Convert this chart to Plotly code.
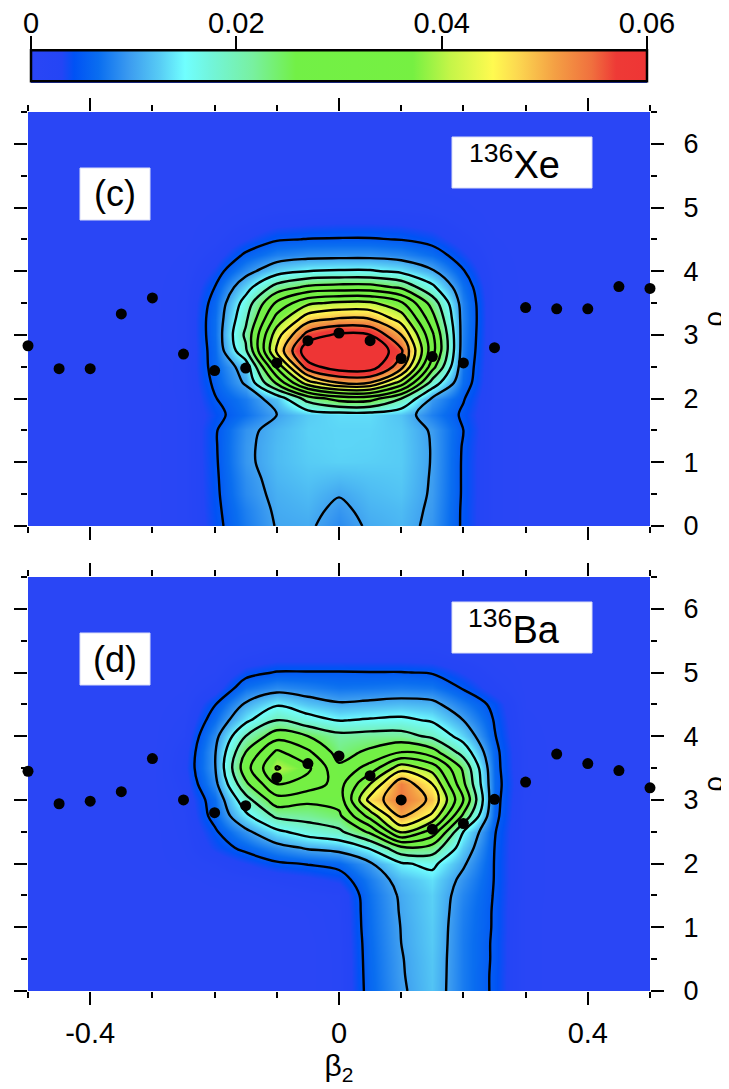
import numpy as np
import plotly.graph_objects as go

# ---------------- data ----------------
beta_nodes = [-0.5, -0.45, -0.4, -0.35, -0.3, -0.25, -0.2, -0.15, -0.1, -0.05, 0.0,
              0.05, 0.1, 0.15, 0.2, 0.25, 0.3, 0.35, 0.4, 0.45, 0.5]
rho_nodes = [0.0, 0.25, 0.5, 0.75, 1.0, 1.25, 1.5, 1.75, 2.0, 2.25, 2.5, 2.75, 3.0,
             3.25, 3.5, 3.75, 4.0, 4.25, 4.5, 4.75, 5.0, 5.25, 5.5, 5.75, 6.0, 6.25, 6.5]

# non-zero block: columns beta = -0.3 ... 0.3, rows rho = 0, 0.25, ...
block_beta = [-0.3, -0.25, -0.2, -0.15, -0.1, -0.05, 0.0, 0.05, 0.1, 0.15, 0.2, 0.25, 0.3]

density_xe = [
    [0, 0.001, 0.004, 0.0075, 0.0102, 0.0105, 0.0085, 0.0105, 0.0112, 0.0092, 0.0045, 0.001, 0],
    [0, 0.001, 0.0042, 0.0078, 0.0105, 0.011, 0.0092, 0.011, 0.0115, 0.0094, 0.0045, 0.001, 0],
    [0, 0.001, 0.0043, 0.0085, 0.0108, 0.0115, 0.0102, 0.0115, 0.012, 0.0096, 0.0046, 0.001, 0],
    [0, 0.001, 0.0044, 0.0088, 0.0112, 0.012, 0.0115, 0.012, 0.0123, 0.0097, 0.0046, 0.001, 0],
    [0, 0.001, 0.0045, 0.0093, 0.0115, 0.0125, 0.0128, 0.0127, 0.0125, 0.0098, 0.0046, 0.001, 0],
    [0, 0.001, 0.0046, 0.0093, 0.0115, 0.0127, 0.013, 0.0129, 0.0125, 0.0098, 0.0047, 0.001, 0],
    [0, 0.001, 0.0046, 0.009, 0.0113, 0.0128, 0.013, 0.013, 0.0124, 0.0096, 0.005, 0.001, 0],
    [0, 0.001, 0.004, 0.0068, 0.0100, 0.0125, 0.0133, 0.0133, 0.012, 0.0078, 0.0045, 0.001, 0],
    [0, 0.001, 0.0048, 0.0075, 0.012, 0.022, 0.027, 0.027, 0.02, 0.0095, 0.0052, 0.001, 0],
    [0, 0.0012, 0.0055, 0.0105, 0.026, 0.043, 0.05, 0.05, 0.038, 0.018, 0.0065, 0.001, 0],
    [0, 0.0012, 0.006, 0.012, 0.036, 0.058, 0.063, 0.063, 0.052, 0.027, 0.007, 0.001, 0],
    [0, 0.001, 0.0062, 0.019, 0.046, 0.064, 0.067, 0.066, 0.056, 0.032, 0.0075, 0.001, 0],
    [0, 0.001, 0.0065, 0.021, 0.043, 0.057, 0.061, 0.06, 0.05, 0.031, 0.0078, 0.001, 0],
    [0, 0.001, 0.0065, 0.019, 0.037, 0.048, 0.0505, 0.05, 0.043, 0.027, 0.008, 0.001, 0],
    [0, 0.001, 0.006, 0.017, 0.031, 0.039, 0.041, 0.041, 0.036, 0.023, 0.0078, 0.001, 0],
    [0, 0.0008, 0.005, 0.013, 0.022, 0.026, 0.027, 0.027, 0.024, 0.016, 0.0068, 0.001, 0],
    [0, 0.0005, 0.0035, 0.0085, 0.013, 0.015, 0.0155, 0.0155, 0.014, 0.0105, 0.0052, 0.0008, 0],
    [0, 0.0003, 0.002, 0.0055, 0.0078, 0.0086, 0.0088, 0.0088, 0.0082, 0.0065, 0.0035, 0.0005, 0],
    [0, 0, 0.001, 0.003, 0.0047, 0.0051, 0.0052, 0.0052, 0.0049, 0.004, 0.002, 0.0003, 0],
    [0, 0, 0.0005, 0.0015, 0.0025, 0.0028, 0.003, 0.003, 0.0028, 0.0022, 0.001, 0, 0],
    [0, 0, 0.0002, 0.0006, 0.001, 0.0012, 0.0013, 0.0013, 0.0012, 0.0009, 0.0004, 0, 0],
    [0, 0, 0, 0.0002, 0.0004, 0.0005, 0.0005, 0.0005, 0.0005, 0.0003, 0.0001, 0, 0],
]

density_ba = [
    [0, 0, 0, 0, 0, 0, 0.001, 0.006, 0.0095, 0.012, 0.0075, 0.0045, 0.0005],
    [0, 0, 0, 0, 0, 0, 0.001, 0.0061, 0.0097, 0.0121, 0.0075, 0.0045, 0.0005],
    [0, 0, 0, 0, 0, 0, 0.001, 0.0062, 0.0098, 0.0122, 0.0075, 0.0046, 0.0005],
    [0, 0, 0, 0, 0, 0, 0.0011, 0.0063, 0.01, 0.0124, 0.0075, 0.0046, 0.0005],
    [0, 0, 0, 0, 0, 0.0002, 0.0012, 0.0065, 0.0101, 0.0125, 0.0076, 0.0047, 0.0005],
    [0, 0, 0, 0, 0, 0.0003, 0.0013, 0.0066, 0.0103, 0.0127, 0.0078, 0.0047, 0.0005],
    [0, 0, 0, 0, 0.0005, 0.001, 0.0015, 0.0068, 0.0105, 0.0128, 0.0082, 0.0048, 0.0006],
    [0, 0, 0.0005, 0.001, 0.0018, 0.0025, 0.0035, 0.0075, 0.0115, 0.0135, 0.009, 0.0049, 0.0006],
    [0, 0.0005, 0.0015, 0.003, 0.0045, 0.0052, 0.006, 0.0095, 0.0145, 0.016, 0.0105, 0.0049, 0.0006],
    [0, 0.0008, 0.0035, 0.0058, 0.0085, 0.0105, 0.0115, 0.0155, 0.024, 0.023, 0.0125, 0.005, 0.0006],
    [0, 0.001, 0.0045, 0.009, 0.014, 0.017, 0.019, 0.026, 0.041, 0.033, 0.015, 0.0052, 0.0006],
    [0, 0.0012, 0.006, 0.014, 0.021, 0.022, 0.024, 0.037, 0.051, 0.044, 0.024, 0.0058, 0.0006],
    [0, 0.0015, 0.0065, 0.018, 0.028, 0.026, 0.027, 0.047, 0.054, 0.049, 0.03, 0.006, 0.0008],
    [0, 0.002, 0.0085, 0.024, 0.035, 0.033, 0.028, 0.04, 0.0535, 0.045, 0.026, 0.0062, 0.001],
    [0, 0.0025, 0.0095, 0.028, 0.0405, 0.036, 0.026, 0.032, 0.043, 0.038, 0.024, 0.006, 0.0008],
    [0, 0.0022, 0.0095, 0.025, 0.036, 0.031, 0.023, 0.026, 0.03, 0.027, 0.018, 0.0058, 0.0008],
    [0, 0.0015, 0.0085, 0.02, 0.028, 0.025, 0.0215, 0.022, 0.022, 0.019, 0.013, 0.0052, 0.0006],
    [0, 0.001, 0.0065, 0.014, 0.02, 0.017, 0.0148, 0.0155, 0.016, 0.0145, 0.01, 0.0048, 0.0004],
    [0, 0.0005, 0.0048, 0.0105, 0.0145, 0.012, 0.0105, 0.011, 0.0115, 0.011, 0.0075, 0.0042, 0.0002],
    [0, 0.0002, 0.002, 0.0068, 0.0085, 0.0078, 0.007, 0.0072, 0.0075, 0.0072, 0.0048, 0.002, 0],
    [0, 0, 0.0008, 0.004, 0.0052, 0.0052, 0.0052, 0.0051, 0.0051, 0.0048, 0.003, 0.001, 0],
    [0, 0, 0.0003, 0.0015, 0.0022, 0.0022, 0.0022, 0.0022, 0.0022, 0.002, 0.0012, 0.0004, 0],
    [0, 0, 0, 0.0005, 0.0008, 0.0008, 0.0008, 0.0008, 0.0008, 0.0008, 0.0004, 0, 0],
]

# points (beta, rho)
beta_points = [-0.5, -0.45, -0.4, -0.35, -0.3, -0.25, -0.2, -0.15, -0.1, -0.05, 0.0,
               0.05, 0.1, 0.15, 0.2, 0.25, 0.3, 0.35, 0.4, 0.45, 0.5]
rho_points_xe = [2.83, 2.47, 2.47, 3.33, 3.58, 2.70, 2.44, 2.48, 2.56, 2.91, 3.03,
                 2.91, 2.63, 2.66, 2.56, 2.80, 3.43, 3.41, 3.41, 3.76, 3.73]
rho_points_ba = [3.45, 2.94, 2.98, 3.13, 3.65, 3.00, 2.80, 2.91, 3.35, 3.57, 3.69,
                 3.38, 3.00, 2.54, 2.63, 3.01, 3.28, 3.72, 3.57, 3.46, 3.19]

cbar_ticks = [0, 0.02, 0.04, 0.06]
cbar_ticktext = ["0", "0.02", "0.04", "0.06"]
beta_ticks = [-0.4, 0, 0.4]
beta_ticktext = ["-0.4", "0", "0.4"]
beta_minor = [-0.5, -0.3, -0.2, -0.1, 0.1, 0.2, 0.3, 0.5]
rho_ticks = [0, 1, 2, 3, 4, 5, 6]
rho_ticktext = ["0", "1", "2", "3", "4", "5", "6"]
rho_minor = [0.5, 1.5, 2.5, 3.5, 4.5, 5.5, 6.5]


def full_grid(block):
    z = np.zeros((len(rho_nodes), len(beta_nodes)))
    c0 = beta_nodes.index(block_beta[0])
    arr = np.array(block)
    z[:arr.shape[0], c0:c0 + arr.shape[1]] = arr
    return z


z_xe = full_grid(density_xe)
z_ba = full_grid(density_ba)

colorscale = [
    [0.0, "#2a46f5"], [0.05, "#2445f5"], [0.07, "#0052f5"], [0.11, "#0a6ef0"],
    [0.16, "#3c9cf0"], [0.21, "#58cdf5"], [0.25, "#70ffff"], [0.29, "#72f5dc"],
    [0.36, "#78f0a0"], [0.43, "#72f046"], [0.62, "#76f042"], [0.68, "#c4f548"],
    [0.75, "#fffa50"], [0.79, "#fcd850"], [0.85, "#f4a044"], [0.91, "#f0703e"],
    [0.95, "#ee3a36"], [1.0, "#ee3535"],
]

FONT = "Liberation Sans, Arial, Helvetica, sans-serif"

# pixel geometry (page body adds an 8 px offset)
OFF = 8
W, H = 729 - OFF, 1089 - OFF
ML, MR, MT, MB = 28 - OFF, 79, 0, 98
PW = W - ML - MR
PH = H - MT - MB


def ypaper(py):
    # py: reference page pixel (from top)
    return (H - MB - (py - OFF)) / PH


fig = go.Figure()

for i, (z, pts, xa, ya) in enumerate([(z_xe, rho_points_xe, "x", "y"),
                                       (z_ba, rho_points_ba, "x2", "y2")]):
    hm = dict(
        x=beta_nodes, y=rho_nodes, z=z, colorscale=colorscale, zmin=0, zmax=0.06,
        zsmooth="best", xaxis=xa, yaxis=ya, hoverinfo="skip", showscale=(i == 0),
    )
    if i == 0:
        hm["colorbar"] = dict(
            orientation="h", x=0.5, xanchor="center", y=ypaper(67), yanchor="middle",
            yref="paper", lenmode="pixels", len=616, thicknessmode="pixels", thickness=31,
            outlinewidth=2.5, outlinecolor="black", xpad=0, ypad=0, ticks="",
            showticklabels=False,
        )
    fig.add_trace(go.Heatmap(**hm))
    fig.add_trace(go.Contour(
        x=beta_nodes, y=rho_nodes, z=z, xaxis=xa, yaxis=ya, showscale=False,
        contours=dict(start=0.005, end=0.06, size=0.005, coloring="none"),
        line=dict(color="black", width=2.4, smoothing=1.0), hoverinfo="skip",
    ))
    fig.add_trace(go.Scatter(
        x=beta_points, y=pts, mode="markers", xaxis=xa, yaxis=ya,
        marker=dict(color="black", size=11), showlegend=False, hoverinfo="skip",
        cliponaxis=False,
    ))

# carrier for the colorbar tick axis
fig.add_trace(go.Scatter(x=[], y=[], xaxis="x3", yaxis="y3", showlegend=False,
                         hoverinfo="skip"))

common_x = dict(
    range=[-0.5, 0.5], tickvals=beta_ticks, ticktext=beta_ticktext, ticks="outside",
    ticklen=13, tickwidth=2, tickcolor="black", mirror="ticks", showgrid=False,
    zeroline=False, showline=False, automargin=False,
    minor=dict(tickvals=beta_minor, ticks="outside", ticklen=6, tickwidth=2,
               tickcolor="black", showgrid=False),
    tickfont=dict(family=FONT, size=29, color="black"),
)
common_y = dict(
    range=[0, 6.5], tickvals=rho_ticks, ticktext=rho_ticktext, ticks="outside",
    ticklen=13, tickwidth=2, tickcolor="black", mirror="ticks", side="right",
    showgrid=False, zeroline=False, showline=False, automargin=False,
    showticklabels=True, ticklabelstandoff=14,
    tickfont=dict(family=FONT, size=27, color="black"),
    minor=dict(tickvals=rho_minor, ticks="outside", ticklen=6, tickwidth=2,
               tickcolor="black", showgrid=False),
    title=dict(text="ρ", font=dict(family=FONT, size=28, color="black"), standoff=16),
)

dom_c = [ypaper(526), ypaper(112)]
dom_d = [0, ypaper(577)]

fig.update_layout(
    width=W, height=H, margin=dict(l=ML, r=MR, t=MT, b=MB, autoexpand=False),
    paper_bgcolor="white", plot_bgcolor="#2a46f5", showlegend=False,
    font=dict(family=FONT, color="black"),
    xaxis=dict(domain=[0, 1], anchor="y", showticklabels=False, **common_x),
    yaxis=dict(domain=dom_c, anchor="x", **common_y),
    xaxis2=dict(domain=[0, 1], anchor="y2", showticklabels=True, ticklabelstandoff=3,
                title=dict(text="β<sub>2</sub>", font=dict(family=FONT, size=30, color="black"),
                           standoff=5),
                **common_x),
    yaxis2=dict(domain=dom_d, anchor="x2", **common_y),
    xaxis3=dict(domain=[3 / PW, (PW - 3) / PW], anchor="y3", range=[0, 0.06], side="top",
                tickvals=cbar_ticks, ticktext=cbar_ticktext, ticks="outside", ticklen=14,
                tickwidth=2, tickcolor="black", showgrid=False, zeroline=False,
                showline=False, automargin=False, ticklabelstandoff=-9,
                tickfont=dict(family=FONT, size=29, color="black")),
    yaxis3=dict(domain=[ypaper(83), ypaper(51)], anchor="x3", range=[0, 1], visible=False),
)


def px_to_beta(px):
    return (px - 28) / PW - 0.5


def px_to_rho(py, top):
    return (top + 414 - py) / (414 / 6.5)


shapes = []
annotations = []
for xa, ya, top, tag, nuc in [("x", "y", 112, "(c)", "<sup>136</sup>Xe"),
                              ("x2", "y2", 577, "(d)", "<sup>136</sup>Ba")]:
    for (x0, x1, y0, y1) in [(80, 150, top + 56, top + 108), (452, 592, top + 25, top + 76)]:
        shapes.append(dict(type="rect", xref=xa, yref=ya,
                           x0=px_to_beta(x0), x1=px_to_beta(x1),
                           y0=px_to_rho(y1, top), y1=px_to_rho(y0, top),
                           fillcolor="white", line=dict(color="#d8dcf8", width=1), layer="above"))
    annotations.append(dict(xref=xa, yref=ya, x=px_to_beta(115), y=px_to_rho(top + 82, top),
                            text=tag, showarrow=False, xanchor="center", yanchor="middle",
                            font=dict(family=FONT, size=36, color="black")))
    annotations.append(dict(xref=xa, yref=ya, x=px_to_beta(514), y=px_to_rho(top + 50, top),
                            text=nuc, showarrow=False, xanchor="center", yanchor="middle",
                            font=dict(family=FONT, size=38, color="black")))

fig.update_layout(shapes=shapes, annotations=annotations)

fig.write_html("out.html")
